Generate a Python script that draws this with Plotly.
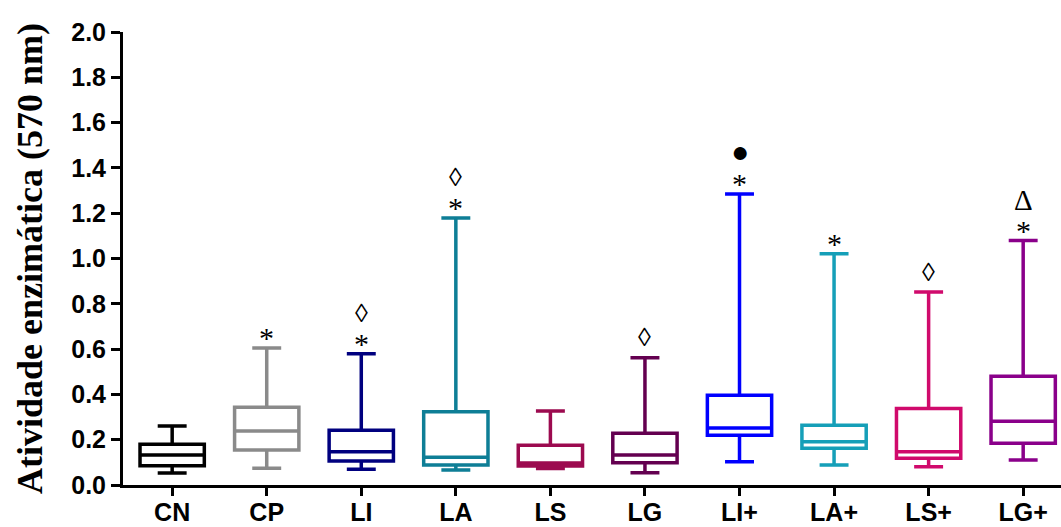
import plotly.graph_objects as go

# Groups and their five-number summaries (enzymatic activity at 570 nm)
groups = ["CN", "CP", "LI", "LA", "LS", "LG", "LI+", "LA+", "LS+", "LG+"]
lower = [0.053, 0.074, 0.069, 0.066, 0.073, 0.054, 0.103, 0.088, 0.081, 0.110]
q1 = [0.085, 0.154, 0.106, 0.088, 0.084, 0.098, 0.220, 0.162, 0.118, 0.184]
median = [0.132, 0.238, 0.147, 0.122, 0.097, 0.132, 0.252, 0.191, 0.147, 0.282]
q3 = [0.180, 0.343, 0.242, 0.323, 0.176, 0.228, 0.396, 0.264, 0.338, 0.480]
upper = [0.261, 0.605, 0.580, 1.179, 0.327, 0.562, 1.285, 1.021, 0.852, 1.079]

# Significance marks drawn above each whisker (first = nearest the whisker)
marks = [[], ["*"], ["*", "◊"], ["*", "◊"], [], ["◊"], ["*", "●"], ["*"], ["◊"], ["*", "Δ"]]

colors = ["#000000", "#8a8a8a", "#00007f", "#0e7e96", "#9c0a4f",
          "#640050", "#0000ff", "#159fb8", "#d00a6c", "#8a008a"]

y_ticks = [0.0, 0.2, 0.4, 0.6, 0.8, 1.0, 1.2, 1.4, 1.6, 1.8, 2.0]

# glyph size and vertical offset (px above whisker cap) for each mark
mark_style = {"*": (30, 10), "◊": (26, 20), "●": (30, 42), "Δ": (29, 41)}

fig = go.Figure()
for i, g in enumerate(groups):
    fig.add_trace(go.Box(
        x=[g], q1=[q1[i]], median=[median[i]], q3=[q3[i]],
        lowerfence=[lower[i]], upperfence=[upper[i]],
        width=0.68, whiskerwidth=0.45,
        line=dict(color=colors[i], width=3.5),
        fillcolor="rgba(255,255,255,0)",
        showlegend=False, hoverinfo="skip",
    ))

    for k, m in enumerate(marks[i]):
        size, shift = mark_style[m]
        if m == "◊" and k == 1:
            shift = 40
        fig.add_annotation(
            x=g, y=upper[i], text=m, showarrow=False,
            yshift=shift, yanchor="middle",
            font=dict(family="Liberation Serif", size=size, color="#000000"),
        )

fig.update_layout(
    width=1061, height=527,
    margin=dict(l=123, r=0, t=32, b=42),
    paper_bgcolor="white", plot_bgcolor="white",
    boxmode="overlay",
)
fig.update_xaxes(
    categoryorder="array", categoryarray=groups,
    range=[-0.52, 9.40], automargin=False,
    showline=True, linecolor="black", linewidth=3,
    ticks="outside", ticklen=8, tickwidth=3, tickcolor="black",
    ticklabelstandoff=-5,
    showgrid=False, zeroline=False,
    tickfont=dict(family="Liberation Sans", size=25, color="black", weight="bold"),
)
fig.update_yaxes(
    range=[0, 2.0], tickvals=y_ticks, automargin=False,
    ticktext=[f"{v:.1f}" for v in y_ticks],
    showline=True, linecolor="black", linewidth=3,
    ticks="outside", ticklen=9, tickwidth=3, tickcolor="black",
    showgrid=False, zeroline=False,
    tickfont=dict(family="Liberation Sans", size=25, color="black", weight="bold"),
    title=dict(text="Atividade enzimática (570 nm)", standoff=18,
               font=dict(family="Liberation Serif", size=36, color="black", weight="bold")),
)

fig.write_html("out.html")
